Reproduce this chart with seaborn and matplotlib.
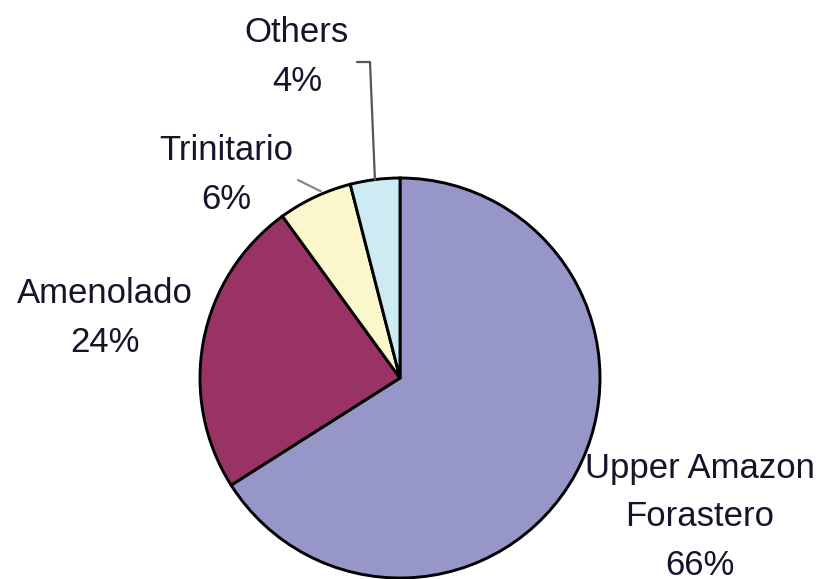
import numpy as np
import matplotlib
matplotlib.use('Agg')
import matplotlib.pyplot as plt
import seaborn as sns

# cocoa varieties share
labels = ['Upper Amazon\nForastero', 'Amenolado', 'Trinitario', 'Others']
shares = [66, 24, 6, 4]
colors = ['#9696C8', '#993366', '#FBF7CC', '#CCEBF3']

sns.set_theme(style='white')
plt.rcParams['font.family'] = ['Liberation Sans', 'DejaVu Sans']

fig = plt.figure(figsize=(8.25, 5.79), dpi=100)
ax = fig.add_axes([0, 0, 1, 1])

wedges, _ = ax.pie(shares, colors=colors, startangle=90, counterclock=False,
                   wedgeprops=dict(edgecolor='black', linewidth=2.1))

ax.set_xlim(-2.0, 2.125)
ax.set_ylim(-1.005, 1.89)
ax.set_aspect('equal')
ax.axis('off')

txt = dict(fontsize=25, color='#15152a', ha='center', va='center', linespacing=1.6)
ax.text(1.5, -0.695, f'{labels[0]}\n{shares[0]}%', **txt)
ax.text(-1.475, 0.30, f'{labels[1]}\n{shares[1]}%', **txt)
ax.text(-0.87, 1.015, f'{labels[2]}\n{shares[2]}%', **txt)
ax.text(-0.515, 1.605, f'{labels[3]}\n{shares[3]}%', **txt)

# leader lines from wedge edge midpoints
def edge_pt(w):
    a = np.deg2rad((w.theta1 + w.theta2) / 2)
    return np.cos(a), np.sin(a)

x, y = edge_pt(wedges[3])
ax.plot([x, -0.15, -0.15, -0.215], [y, 1.58, 1.58, 1.58], color='#555555', lw=1.6)
x, y = edge_pt(wedges[2])
ax.plot([x + 0.03, -0.41, -0.51], [y + 0.03, 0.94, 0.99], color='#888888', lw=1.6)

fig.savefig('out.png', dpi=100)
